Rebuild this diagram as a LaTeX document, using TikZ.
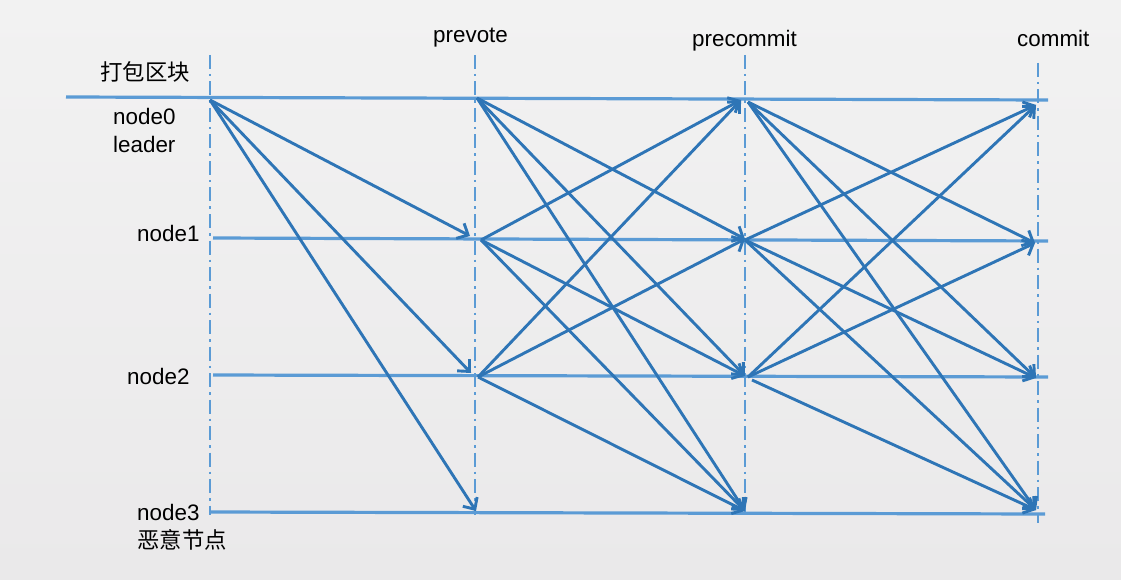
\documentclass[tikz,border=0pt]{standalone}
\usepackage{fontspec}
\setmainfont{Liberation Sans}
\newfontfamily\cjk{Noto Sans CJK SC}
\usetikzlibrary{arrows.meta}
\definecolor{bgtop}{HTML}{F2F2F2}
\definecolor{bgbot}{HTML}{EAE9EA}
\definecolor{lineblue}{HTML}{5B9BD5}
\definecolor{arrowblue}{HTML}{2E75B6}
\begin{document}
\begin{tikzpicture}[x=1pt,y=-1pt,
  timeline/.style={draw=lineblue,line width=3.2pt},
  phaseline/.style={draw=lineblue,line width=2.6pt,dash pattern=on 14pt off 5pt on 2.5pt off 5pt},
  msg/.style={draw=arrowblue,line width=2.9pt,-{Straight Barb[length=9pt,width=17pt]}},
  lbl/.style={font=\fontsize{22.4}{26}\selectfont,inner sep=0pt,anchor=base west},
  cjklbl/.style={font=\fontsize{22.4}{26}\selectfont\cjk,inner sep=0pt,anchor=west}]
\shade[top color=bgtop,bottom color=bgbot] (0,0) rectangle (1121,580);
\useasboundingbox (0,0) rectangle (1121,580);
% phase lines
\coordinate (v0t) at (210,55);  \coordinate (v0b) at (210,515);
\coordinate (v1t) at (475,55);  \coordinate (v1b) at (475,515);
\coordinate (v2t) at (745,55);  \coordinate (v2b) at (745,515);
\coordinate (v3t) at (1038,63); \coordinate (v3b) at (1038,523);
\foreach \i in {0,1,2,3} \draw[phaseline] (v\i t) -- (v\i b);
% time lines
\coordinate (h0l) at (66,97);   \coordinate (h0r) at (1048,100);
\coordinate (h1l) at (213,238); \coordinate (h1r) at (1048,241);
\coordinate (h2l) at (213,375); \coordinate (h2r) at (1048,377);
\coordinate (h3l) at (210,512); \coordinate (h3r) at (1045,514);
\foreach \i in {0,1,2,3} \draw[timeline] (h\i l) -- (h\i r);
% labels
\node[cjklbl] (pack) at (100,72) {打包区块};
\node[lbl] (n0) at (113,125) {node0};
\node[lbl] (lead) at (113,153) {leader};
\node[lbl] (n1) at (137,241) {node1};
\node[lbl] (n2) at (127,384) {node2};
\node[lbl] (n3) at (137,520) {node3};
\node[cjklbl] (evil) at (137,540) {恶意节点};
\node[lbl] (tprevote) at (433,43) {prevote};
\node[lbl] (tprecommit) at (692,47) {precommit};
\node[lbl] (tcommit) at (1017,47) {commit};
% message points
\coordinate (L) at (210,100);
\coordinate (P0) at (477,98);  \coordinate (P1) at (481,240);
\coordinate (P2) at (478,377);
\coordinate (P1in) at (470,236); \coordinate (P2in) at (471,373); \coordinate (P3in) at (476,511);
\coordinate (C0) at (748,102); \coordinate (C1) at (745,240);
\coordinate (C2) at (748,377); \coordinate (C2b) at (752,380);
\coordinate (C0in) at (741,100); \coordinate (C1in) at (745,239);
\coordinate (C2in) at (745,376); \coordinate (C3in) at (745,511);
\coordinate (M0in) at (1036,105); \coordinate (M1in) at (1035,243);
\coordinate (M2in) at (1036,378); \coordinate (M3in) at (1036,510);
% leader broadcast
\foreach \t in {P1in,P2in,P3in} \draw[msg] (L) -- (\t);
% prevote
\foreach \t in {C1in,C2in,C3in} \draw[msg] (P0) -- (\t);
\foreach \t in {C0in,C2in,C3in} \draw[msg] (P1) -- (\t);
\foreach \t in {C0in,C1in,C3in} \draw[msg] (P2) -- (\t);
% precommit
\foreach \t in {M1in,M2in,M3in} \draw[msg] (C0) -- (\t);
\foreach \t in {M0in,M2in,M3in} \draw[msg] (C1) -- (\t);
\foreach \t in {M0in,M1in} \draw[msg] (C2) -- (\t);
\draw[msg] (C2b) -- (M3in);
\end{tikzpicture}
\end{document}
